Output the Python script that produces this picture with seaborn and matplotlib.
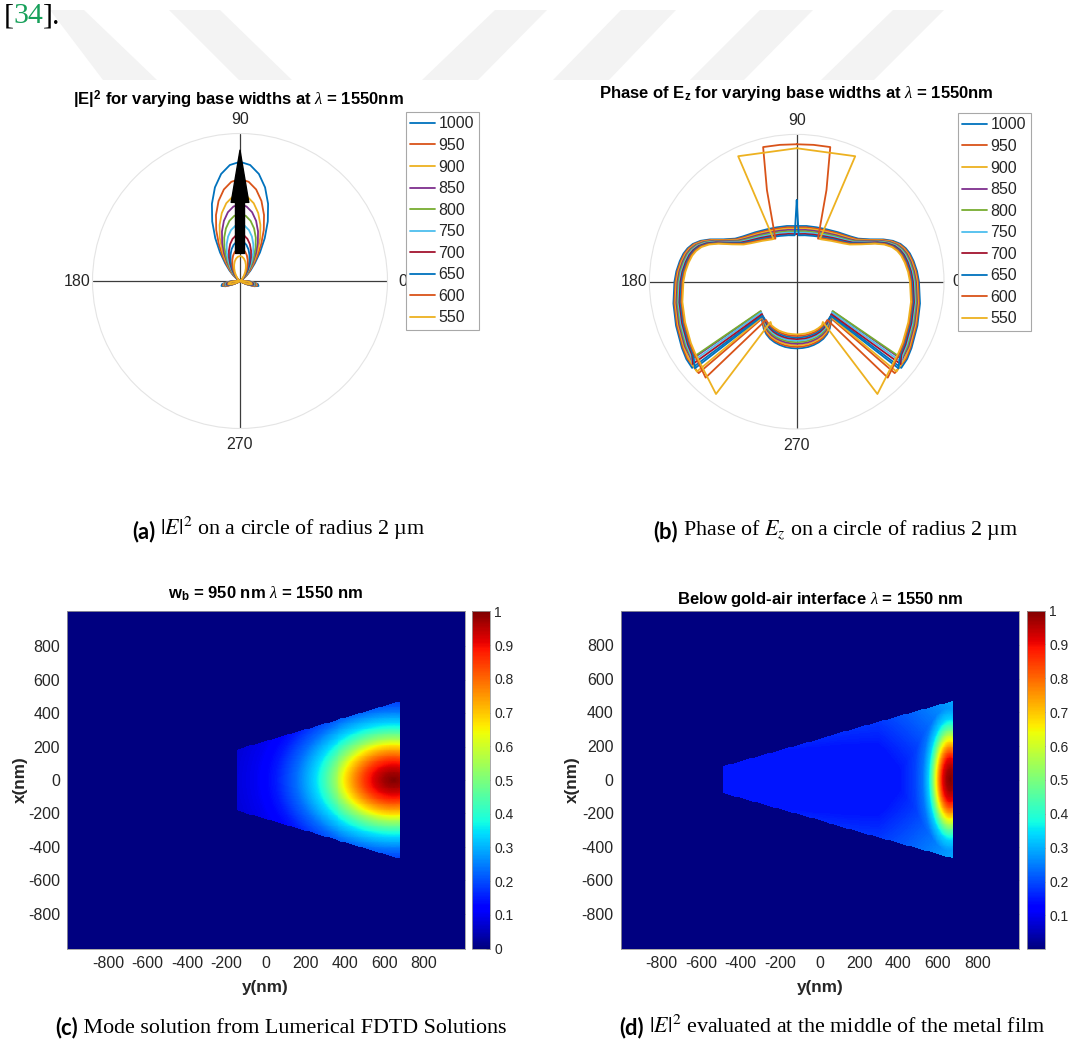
import numpy as np
import matplotlib
matplotlib.use("Agg")
import matplotlib.pyplot as plt
import seaborn as sns
from matplotlib.patches import Polygon

sns.set_style("white")
plt.rcParams["font.family"] = ["Liberation Sans", "DejaVu Sans"]
plt.rcParams["mathtext.fontset"] = "custom"
plt.rcParams["mathtext.rm"] = "Liberation Sans"
plt.rcParams["mathtext.bf"] = "Liberation Sans:bold"
plt.rcParams["mathtext.it"] = "Liberation Serif:italic"
plt.rcParams["axes.unicode_minus"] = False

# ------------------------------------------------------------------ data
base_widths = [1000, 950, 900, 850, 800, 750, 700, 650, 600, 550]
line_colors = ["#0072BD", "#D95319", "#EDB120", "#7E2F8E", "#77AC30",
               "#4DBEEE", "#A2142F", "#0072BD", "#D95319", "#EDB120"]

# (a) |E|^2 radiation lobes: peak of the upward lobe and size of the side lobes
lobe_peak = [0.808, 0.691, 0.587, 0.519, 0.454, 0.384, 0.318, 0.273, 0.221, 0.169]
lobe_side = [0.130, 0.120, 0.115, 0.110, 0.105, 0.100, 0.095, 0.090, 0.085, 0.080]
# normalised lobe shapes on the right half of the pattern (degrees)
lobe_theta_half = [-40, -35, -30, -25, -20, -15, -10, -5, 0, 5, 10, 15, 20, 25,
                   30, 35, 40, 45, 50, 55, 60, 65, 70, 75, 80, 85, 90]
lobe_main_half = [0, 0, 0, 0, 0, 0, 0, 0, 0, 0, 0, 0, 0.002, 0.006,
                  0.016, 0.037, 0.075, 0.125, 0.192, 0.292, 0.415, 0.552, 0.689,
                  0.813, 0.912, 0.977, 1.0]
lobe_side_half = [0, 0.04, 0.15, 0.45, 0.80, 1.0, 0.95, 0.70, 0.30, 0, 0, 0, 0, 0,
                  0, 0, 0, 0, 0, 0, 0, 0, 0, 0, 0, 0, 0]
arrow_r = [0.187, 0.887]

# (b) phase of Ez (plotted as phase + 2*pi), left half of the pattern
phase_band_theta = [90, 100, 110, 120, 130, 140, 145, 150, 154, 157, 160, 163,
                    166, 170, 175, 180, 190, 200, 210, 215]
phase_band_r = [3.78, 3.84, 3.93, 4.10, 4.38, 4.78, 5.10, 5.75, 6.55, 7.10, 7.50,
                7.75, 7.92, 8.06, 8.20, 8.30, 8.50, 8.72, 9.00, 9.15]
phase_band_spread = [0.82, 0.82, 0.80, 0.78, 0.76, 0.72, 0.70, 0.68, 0.66, 0.64,
                     0.62, 0.61, 0.61, 0.61, 0.61, 0.61, 0.62, 0.66, 0.70, 0.72]
phase_arc_theta = [222, 226, 230, 235, 240, 245, 250, 255, 260, 265, 270]
phase_arc_r = [3.28, 3.44, 3.62, 3.90, 4.12, 4.28, 4.38, 4.45, 4.50, 4.52, 4.53]
phase_arc_spread = [0.10, 0.20, 0.35, 0.55, 0.70, 0.80, 0.85, 0.90, 0.93, 0.95, 0.95]
phase_top_cut = [90, 90, 90, 90, 90, 90, 90, 95, 117, 119]
phase_top_theta = [[], [], [], [], [], [], [], [92.5, 90],
                   [116.3, 108, 104, 97, 90], [118.5, 115, 90]]
phase_top_r = [[], [], [], [], [], [], [], [3.15, 5.53],
               [3.26, 6.54, 9.42, 9.36, 9.33], [3.30, 9.40, 9.06]]
phase_out_theta = [219.5, 223.0, 222.0, 216.5, 216.1, 217.5, 218.4, 220.4, 226.5, 234.3]
phase_out_r = [9.20, 9.10, 9.12, 8.90, 8.83, 8.95, 9.00, 9.07, 8.98, 9.39]
phase_in_theta = [224.0, 227.0, 226.0, 219.5, 219.2, 221.0, 223.0, 225.0, 231.3, 237.0]
phase_in_r = [3.25, 3.30, 3.28, 3.17, 3.15, 3.18, 3.22, 3.28, 3.33, 3.26]

# (c) mode |E|^2: taper outline and intensity versus elliptical distance from the peak
c_taper_y = [-145, 680]
c_taper_hw = [183, 470]
c_peak_y, c_aspect = 650, 0.84
c_dist = [0, 50, 100, 150, 200, 250, 300, 350, 400, 500, 600, 700, 850]
c_level = [1.0, 0.97, 0.92, 0.85, 0.76, 0.66, 0.53, 0.43, 0.34, 0.23, 0.15, 0.10, 0.07]

# (d) |E|^2 in the metal film
d_taper_y = [-488, 676]
d_taper_hw = [80, 470]
d_peak_y, d_aspect = 662, 3.3
d_dist = [0, 20, 40, 60, 75, 90, 110, 140, 180, 250]
d_level = [1.0, 0.97, 0.90, 0.75, 0.62, 0.48, 0.33, 0.24, 0.19, 0.15]
d_bg_y = [-490, -300, -100, 100, 300, 450, 550, 680]
d_bg_level = [0.05, 0.07, 0.09, 0.10, 0.11, 0.15, 0.18, 0.22]
d_edge_rel = [0.0, 0.5, 1.0]
d_edge_gain = [0.0, 0.03, 0.07]
d_floor = 0.002

nm_ticks = [-800, -600, -400, -200, 0, 200, 400, 600, 800]
nm_tick_labels = ["-800", "-600", "-400", "-200", "0", "200", "400", "600", "800"]

# ------------------------------------------------------------------ figure
W, H = 1072, 1042
fig = plt.figure(figsize=(W / 100, H / 100), dpi=100)
fig.patch.set_facecolor("white")


def px_rect(left, top, right, bottom):
    return [left / W, 1 - bottom / H, (right - left) / W, (bottom - top) / H]


# full-page layer for page decorations and captions
page = fig.add_axes([0, 0, 1, 1], zorder=-1)
page.set_xlim(0, W)
page.set_ylim(H, 0)
page.axis("off")

# faint diagonal watermark bands across the top edge
wm_top = [(50, 84), (169, 220), (495, 547), (621, 676), (760, 813), (893, 944)]
wm_bottom = [(103, 157), (239, 292), (422, 478), (553, 609), (690, 744), (821, 874)]
for (tl, tr), (bl, br) in zip(wm_top, wm_bottom):
    page.add_patch(Polygon([(tl, 10), (tr, 10), (br, 80), (bl, 80)], closed=True,
                           facecolor="#f3f3f3", edgecolor="none"))

# citation fragment at the top left
t0 = page.text(3.5, 23, "[", fontsize=21.5, family="Liberation Serif",
               va="baseline", color="black")
t1 = page.annotate("34", xy=(1, 0), xycoords=t0, va="bottom", fontsize=21.5,
                   family="Liberation Serif", color="#17a05a", annotation_clip=False)
page.annotate("].", xy=(1, 0), xycoords=t1, va="bottom", fontsize=21.5,
              family="Liberation Serif", color="black", annotation_clip=False)

txt_color = "#262626"


def style_polar(ax, rmax, zero_gap):
    ax.set_ylim(0, rmax)
    ax.set_yticks([])
    ax.set_xticks(np.deg2rad([0, 90, 180, 270]))
    ax.set_xticklabels([])
    ax.tick_params(length=0)
    ax.xaxis.grid(True, color="#3c3c3c", lw=0.9)
    ax.spines["polar"].set_color("#e4e4e4")
    ax.spines["polar"].set_linewidth(0.8)
    ax.set_facecolor("none")
    ax.set_xlabel("")
    ax.set_ylabel("")
    spots = [(90, 1.095, "center"), (270, 1.11, "center"),
             (180, 1.012, "right"), (0, zero_gap, "left")]
    for deg, rr, ha in spots:
        ax.text(np.deg2rad(deg), rr * rmax, str(deg), ha=ha, va="center",
                fontsize=11.5, color=txt_color, zorder=1)


def add_legend(ax, left, top):
    leg = ax.legend(ax.get_lines()[:len(base_widths)],
                    [str(w) for w in base_widths],
                    loc="upper left", bbox_to_anchor=(left / W, 1 - top / H),
                    bbox_transform=fig.transFigure, borderaxespad=0,
                    frameon=True, fancybox=False, edgecolor="#a8a8a8",
                    fontsize=11.5, handlelength=1.55, handletextpad=0.2,
                    labelspacing=0.41, borderpad=0.3, framealpha=1)
    leg.get_frame().set_linewidth(0.8)
    for t in leg.get_texts():
        t.set_color(txt_color)
    leg.set_zorder(10)


# ---------------- (a) polar |E|^2
ax_a = fig.add_axes(px_rect(240 - 147.5, 281 - 147.5, 240 + 147.5, 281 + 147.5),
                    projection="polar")
lobe_theta = np.array(lobe_theta_half + [180 - t for t in lobe_theta_half[-2::-1]])
lobe_main = np.array(lobe_main_half + lobe_main_half[-2::-1])
lobe_sidep = np.array(lobe_side_half + lobe_side_half[-2::-1])
for w, c, pk, sd in zip(base_widths, line_colors, lobe_peak, lobe_side):
    r = pk * lobe_main + sd * lobe_sidep
    sns.lineplot(x=np.deg2rad(lobe_theta), y=r, ax=ax_a, sort=False,
                 estimator=None, color=c, lw=1.3)
ax_a.annotate("", xy=(np.pi / 2, arrow_r[1]), xytext=(np.pi / 2, arrow_r[0]),
              arrowprops=dict(arrowstyle="simple,head_length=3.76,head_width=1.27,tail_width=0.65",
                              mutation_scale=10, color="black", shrinkA=0, shrinkB=0))
style_polar(ax_a, 1.0, 1.075)
add_legend(ax_a, 405.7, 111.7)
page.text(238.5, 105.7,
          r"|E|$^{\mathbf{2}}$ for varying base widths at $\lambda$ = 1550nm",
          ha="center", va="baseline", fontsize=12, fontweight="bold", color="black")

# ---------------- (b) polar phase of Ez
ax_b = fig.add_axes(px_rect(796.7 - 147.3, 281.7 - 147.3, 796.7 + 147.3, 281.7 + 147.3),
                    projection="polar")
for k, (w, c) in enumerate(zip(base_widths, line_colors)):
    frac = k / (len(base_widths) - 1)
    th, rr = [], []
    th += phase_top_theta[k][::-1]
    rr += phase_top_r[k][::-1]
    strict = len(phase_top_theta[k]) > 0
    for t, r0, s in zip(phase_band_theta, phase_band_r, phase_band_spread):
        keep_top = t > phase_top_cut[k] if strict else t >= phase_top_cut[k]
        if keep_top and t < phase_out_theta[k] - 2:
            th.append(t)
            rr.append(r0 - frac * s)
    th += [phase_out_theta[k], phase_in_theta[k]]
    rr += [phase_out_r[k], phase_in_r[k]]
    for t, r0, s in zip(phase_arc_theta, phase_arc_r, phase_arc_spread):
        if t > phase_in_theta[k] + 1.5:
            th.append(t)
            rr.append(r0 - frac * s)
    th_full = th + [180 - t for t in th[-2::-1]]
    rr_full = rr + rr[-2::-1]
    sns.lineplot(x=np.deg2rad(th_full), y=rr_full, ax=ax_b, sort=False,
                 estimator=None, color=c, lw=1.3)
style_polar(ax_b, 10.0, 1.06)
add_legend(ax_b, 957.7, 112.7)
page.text(796.7, 98.3,
          r"Phase of E$_{\mathbf{z}}$ for varying base widths at $\lambda$ = 1550nm",
          ha="center", va="baseline", fontsize=12, fontweight="bold", color="black")

# ---------------- field maps
n_cells = 400
field_half = 1008.0
cell = 2 * field_half / n_cells
centres = -field_half + cell * (np.arange(n_cells) + 0.5)
Yg, Xg = np.meshgrid(centres, centres[::-1])


def taper(y_ends, half_widths):
    hw = np.interp(Yg, y_ends, half_widths)
    inside = (Yg >= y_ends[0]) & (Yg <= y_ends[1]) & (np.abs(Xg) <= hw)
    return inside, hw


mask_c, _ = taper(c_taper_y, c_taper_hw)
Zc = np.where(mask_c, np.interp(np.hypot(Yg - c_peak_y, Xg / c_aspect), c_dist, c_level), 0.0)

mask_d, hw_d = taper(d_taper_y, d_taper_hw)
rel = np.clip(np.abs(Xg) / hw_d, 0, 1)
bg_d = np.interp(Yg, d_bg_y, d_bg_level) + np.interp(rel, d_edge_rel, d_edge_gain)
peak_d = np.interp(np.hypot(Yg - d_peak_y, Xg / d_aspect), d_dist, d_level)
Zd = np.where(mask_d, np.maximum(peak_d, bg_d), d_floor)


def field_panel(Z, rect, cbar_rect, vmin, cticks, clabels, title, title_xy,
                xlab_xy, ylab_xy):
    ax = fig.add_axes(px_rect(*rect))
    cax = fig.add_axes(px_rect(*cbar_rect))
    sns.heatmap(Z, ax=ax, cmap="jet", vmin=vmin, vmax=1.0, cbar_ax=cax,
                xticklabels=False, yticklabels=False, rasterized=True)
    n = Z.shape[0]
    ax.set_xticks([(v + field_half) / cell for v in nm_ticks])
    ax.set_xticklabels(nm_tick_labels)
    ax.set_yticks([(field_half - v) / cell for v in nm_ticks])
    ax.set_yticklabels(nm_tick_labels)
    ax.tick_params(direction="in", length=4, width=0.6, color="#3a3a3a",
                   top=True, right=True, labelsize=11.5, labelcolor=txt_color,
                   pad=5)
    ax.tick_params(axis="y", rotation=0)
    for sp in ax.spines.values():
        sp.set_visible(True)
        sp.set_color("#9a9a9a")
        sp.set_linewidth(0.6)
    ax.set_xlim(0, n)
    ax.set_ylim(n, 0)
    cbar = ax.collections[0].colorbar
    cbar.set_ticks(cticks)
    cbar.set_ticklabels(clabels)
    cbar.outline.set_edgecolor("#9a9a9a")
    cbar.outline.set_linewidth(0.6)
    cax.tick_params(direction="in", length=3, width=0.6, color="#3a3a3a",
                    labelsize=10, labelcolor=txt_color, pad=3)
    page.text(title_xy[0], title_xy[1], title, ha="center", va="baseline",
              fontsize=12, fontweight="bold", color="black")
    page.text(xlab_xy[0], xlab_xy[1], "y(nm)", ha="center", va="center",
              fontsize=12.3, fontweight="bold", color=txt_color)
    page.text(ylab_xy[0], ylab_xy[1], "x(nm)", ha="center", va="center",
              rotation=90, fontsize=12.3, fontweight="bold", color=txt_color)
    return ax


ctick_c = [0, 0.1, 0.2, 0.3, 0.4, 0.5, 0.6, 0.7, 0.8, 0.9, 1.0]
clab_c = ["0", "0.1", "0.2", "0.3", "0.4", "0.5", "0.6", "0.7", "0.8", "0.9", "1"]
field_panel(Zc, (67.0, 611.3, 464.8, 948.7), (471.8, 611.3, 490.0, 948.7), 0.0,
            ctick_c, clab_c, r"w$_{\mathbf{b}}$ = 950 nm $\lambda$ = 1550 nm",
            (265.5, 598.5), (265.5, 987.4), (20.5, 780.0))
field_panel(Zd, (620.6, 610.5, 1018.5, 948.7), (1026.7, 610.5, 1045.0, 948.7), d_floor,
            ctick_c[1:], clab_c[1:], r"Below gold-air interface $\lambda$ = 1550 nm",
            (820.0, 603.7), (820.0, 987.4), (572.8, 780.0))


# ---------------- sub-figure captions
def caption(x, y, tag, body):
    lab = page.text(x, y, tag, fontsize=15.8, family="Lato", fontweight="bold",
                    va="baseline", color="black")
    page.annotate(body, xy=(1, 0), xycoords=lab, va="bottom", fontsize=15.8,
                  family="Liberation Serif", math_fontfamily="stix",
                  color="black", annotation_clip=False)


caption(132, 538, "(a)", r" $|E|^2$ on a circle of radius 2 µm")
caption(653, 538, "(b)", r" Phase of $E_z$ on a circle of radius 2 µm")
caption(55, 1034, "(c)", " Mode solution from Lumerical FDTD Solutions")
caption(619, 1034, "(d)", r" $|E|^2$ evaluated at the middle of the metal film")

fig.savefig("out.png", dpi=100, facecolor="white")
